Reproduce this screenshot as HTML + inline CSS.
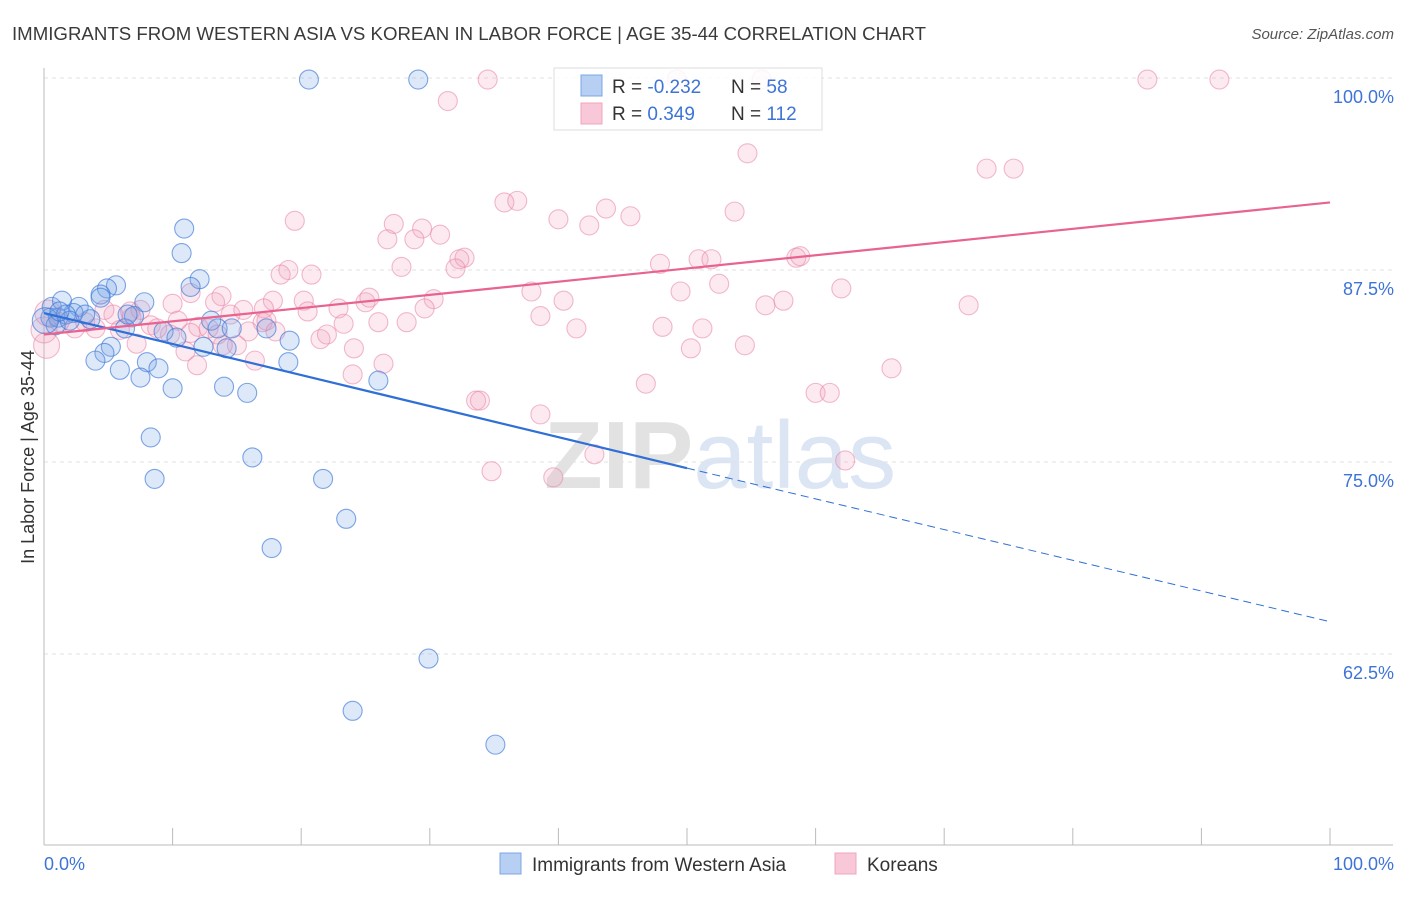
<!DOCTYPE html>
<html><head><meta charset="utf-8"><style>
body{margin:0;background:#fff;font-family:"Liberation Sans",sans-serif}
svg text{font-family:"Liberation Sans",sans-serif}
</style></head><body>
<svg id="chart" width="1406" height="892" viewBox="0 0 1406 892">
<text x="12" y="40" font-size="18" fill="#3a3a3a" textLength="914" lengthAdjust="spacingAndGlyphs">IMMIGRANTS FROM WESTERN ASIA VS KOREAN IN LABOR FORCE | AGE 35-44 CORRELATION CHART</text>
<text x="1394" y="39" font-size="15" fill="#555" font-style="italic" text-anchor="end">Source: ZipAtlas.com</text>
<text x="720" y="488" font-size="96" text-anchor="middle" font-family="Liberation Serif"><tspan font-weight="bold" fill="#e2e2e2">ZIP</tspan><tspan fill="#dbe5f4">atlas</tspan></text>
<g id="grid"></g>
<g id="axes"></g>
<g id="pts"></g>
<g id="lines"></g>
<text transform="translate(34,457) rotate(-90)" font-size="18" fill="#333" text-anchor="middle">In Labor Force | Age 35-44</text>
<text x="44" y="870" font-size="18" fill="#3d74d6">0.0%</text>
<text x="1394" y="870" font-size="18" fill="#3d74d6" text-anchor="end">100.0%</text>
<g>
<rect x="554" y="68" width="268" height="62" fill="rgba(255,255,255,0.85)" stroke="#ddd"/>
<rect x="581" y="75" width="21" height="21" fill="#b7cff3" stroke="#7da6e6"/>
<rect x="581" y="103" width="21" height="21" fill="#f9c8d8" stroke="#f0a5bf"/>
<text x="612" y="93" font-size="19" fill="#333">R = <tspan fill="#3d74d6">-0.232</tspan></text>
<text x="731" y="93" font-size="19" fill="#333">N = <tspan fill="#3d74d6"> 58</tspan></text>
<text x="612" y="120" font-size="19" fill="#333">R = <tspan fill="#3d74d6"> 0.349</tspan></text>
<text x="731" y="120" font-size="19" fill="#333">N = <tspan fill="#3d74d6">112</tspan></text>
</g>
<g>
<rect x="500" y="853" width="21" height="21" fill="#b7cff3" stroke="#7da6e6"/>
<text x="532" y="871" font-size="19" fill="#333">Immigrants from Western Asia</text>
</g>
<g>
<rect x="835" y="853" width="21" height="21" fill="#f9c8d8" stroke="#f0a5bf"/>
<text x="867" y="871" font-size="19" fill="#333">Koreans</text>
</g>
</svg>
<script>
const yTicks=[100,87.5,75,62.5];
const yTickLabels=["100.0%","87.5%","75.0%","62.5%"];
const xTicks=[0,10,20,30,40,50,60,70,80,90,100];
const blueX=[20.6,29.1,10.9,10.7,12.1,11.4,5.6,4.9,4.4,7.8,0.6,1.4,2.7,2.3,3.6,7.0,6.3,9.3,10.3,13.0,13.5,14.6,17.3,19.1,12.4,14.2,5.2,4.7,4.0,8.0,8.9,5.9,7.5,10.0,14.0,15.8,19.0,26.0,8.3,16.2,8.6,21.7,23.5,17.7,29.9,24.0,35.1,0.5,1.1,1.7,3.2,6.5,0.9,2.0,0.1,4.4,1.2];
const blueY=[99.9,99.9,90.2,88.6,86.9,86.4,86.5,86.3,85.9,85.4,85.1,85.5,85.1,84.7,84.3,84.5,83.7,83.5,83.1,84.2,83.7,83.7,83.7,82.9,82.5,82.4,82.5,82.1,81.6,81.5,81.1,81.0,80.5,79.8,79.9,79.5,81.5,80.3,76.6,75.3,73.9,73.9,71.3,69.4,62.2,58.8,56.6,84.4,84.4,84.6,84.6,84.6,83.9,84.2,84.2,85.7,84.8];
const pinkX=[34.5,49.2,55.8,85.8,91.4,31.4,54.7,73.3,75.4,35.8,36.8,43.7,45.6,53.7,40.0,42.4,19.5,27.2,29.4,30.8,26.7,28.8,32.7,32.3,32.0,27.8,47.9,50.9,51.9,58.5,58.8,19.0,20.8,18.4,52.5,62.0,37.9,49.5,40.4,57.5,56.1,71.9,13.8,11.4,10.0,13.3,17.8,20.2,20.5,22.9,25.0,25.3,30.3,29.6,38.6,41.4,48.1,51.2,26.0,28.2,23.3,10.4,14.5,15.5,17.1,8.3,12.0,12.8,5.4,6.8,5.9,15.0,7.2,9.8,11.0,16.4,11.9,24.1,26.4,21.5,22.0,24.0,50.3,54.5,65.9,46.8,33.6,33.9,60.0,61.1,38.6,42.8,34.8,39.6,62.3,17.0,15.9,4.7,3.2,2.4,1.2,0.2,0.0,0.3,6.7,4.0,8.8,13.9,13.5,17.3,7.5,11.4,18.0];
const pinkY=[99.9,99.9,99.9,99.9,99.9,98.5,95.1,94.1,94.1,91.9,92.0,91.5,91.0,91.3,90.8,90.4,90.7,90.5,90.2,89.8,89.5,89.5,88.3,88.2,87.6,87.7,87.9,88.2,88.2,88.3,88.4,87.5,87.2,87.2,86.6,86.3,86.1,86.1,85.5,85.5,85.2,85.2,85.8,86.0,85.3,85.4,85.5,85.5,84.8,85.0,85.4,85.7,85.6,85.0,84.5,83.7,83.8,83.7,84.1,84.1,84.0,84.2,84.6,84.9,85.0,83.9,83.8,83.7,84.6,84.4,83.6,82.6,82.7,83.3,82.2,81.6,81.3,82.4,81.4,83.0,83.3,80.7,82.4,82.6,81.1,80.1,79.0,79.0,79.5,79.5,78.1,75.5,74.4,74.0,75.1,84.1,83.5,84.9,84.1,83.7,84.1,82.6,83.6,84.7,84.8,83.7,83.7,82.6,83.3,84.2,84.9,83.4,83.5];
const blueTrend=[84.7,74.6,64.6]; // at x=0,50,100
const pinkTrend=[83.3,91.9]; // at x=0,100

const NS="http://www.w3.org/2000/svg";
const X=v=>44+v*12.86;
const Y=v=>78+(100-v)*15.36;
function mk(tag,attrs,parent){const e=document.createElementNS(NS,tag);for(const k in attrs)e.setAttribute(k,attrs[k]);document.getElementById(parent).appendChild(e);return e;}
yTicks.forEach((t,i)=>{
 const g=mk('line',{x1:44,x2:1393,y1:Y(t),y2:Y(t),stroke:'#e2e2e2','stroke-dasharray':'4,4'},'grid');
 
 
 const tx=mk('text',{x:1394,y:Y(t)+25,'font-size':18,fill:'#3d74d6','text-anchor':'end'},'grid');
 tx.textContent=yTickLabels[i];
 
 
});
const ax=mk('line',{x1:44,x2:44,y1:68,y2:845,stroke:'#bbb'},'axes');


const bx=mk('line',{x1:44,x2:1393,y1:845,y2:845,stroke:'#bbb'},'axes');


xTicks.forEach(t=>{
 const l=mk('line',{x1:X(t),x2:X(t),y1:828,y2:845,stroke:'#bbb'},'axes');
 
 
});
pinkX.forEach((x,i)=>{
 const c=mk('circle',{cx:X(x),cy:Y(pinkY[i]),r:x<0.5?13:9.5,fill:'rgba(242,160,188,0.22)',stroke:'rgba(232,130,165,0.55)','stroke-width':1.1},'pts');
 
 
});
blueX.forEach((x,i)=>{
 const c=mk('circle',{cx:X(x),cy:Y(blueY[i]),r:x<0.3?13:9.5,fill:'rgba(120,165,230,0.25)',stroke:'rgba(60,120,215,0.65)','stroke-width':1.1},'pts');
 
 
});
const b1=mk('line',{x1:X(0),y1:Y(blueTrend[0]),x2:X(50),y2:Y(blueTrend[1]),stroke:'#2f6fd6','stroke-width':2.2},'lines');


const b2=mk('line',{x1:X(50),y1:Y(blueTrend[1]),x2:X(100),y2:Y(blueTrend[2]),stroke:'#2f6fd6','stroke-width':1,'stroke-dasharray':'8,5'},'lines');


const p1=mk('line',{x1:X(0),y1:Y(pinkTrend[0]),x2:X(100),y2:Y(pinkTrend[1]),stroke:'#e8638f','stroke-width':2.2},'lines');


</script>
</body></html>
